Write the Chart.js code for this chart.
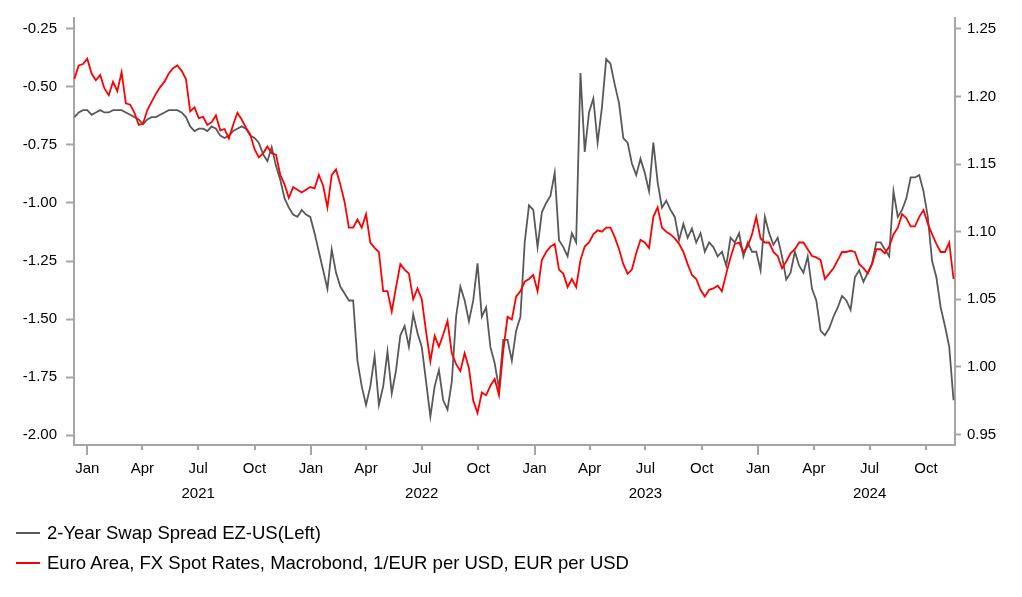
<!DOCTYPE html>
<html>
<head>
<meta charset="utf-8">
<script src="https://cdn.jsdelivr.net/npm/chart.js@4.4.1/dist/chart.umd.min.js"></script>
<style>
  html, body { margin: 0; padding: 0; background: #fff; }
  #wrap { position: relative; width: 1022px; height: 597px; }
  #legend { position: absolute; left: 16px; top: 518px; font: 18.5px "Liberation Sans", Arial, sans-serif; color: #000; }
  .item { height: 30px; line-height: 30px; white-space: nowrap; }
  .swatch { display: inline-block; width: 24px; height: 2px; vertical-align: middle; margin-right: 7px; position: relative; top: -1px; }
</style>
</head>
<body>
<div id="wrap">
  <canvas id="chart" width="1022" height="597"></canvas>
  <div id="legend"></div>
</div>
<script>
// weekly observations starting from this date
const startDate = '2020-12-11';
const stepDays = 7;

const seriesNames = [
    '2-Year Swap Spread EZ-US(Left)',
    'Euro Area, FX Spot Rates, Macrobond, 1/EUR per USD, EUR per USD'
];

// 2-Year Swap Spread EZ-US (left axis)
const swapSpread = [
    -0.63,-0.61,-0.60,-0.60,-0.62,-0.61,-0.60,-0.61,-0.61,-0.60,
    -0.60,-0.60,-0.61,-0.62,-0.63,-0.64,-0.66,-0.64,-0.63,-0.63,
    -0.62,-0.61,-0.60,-0.60,-0.60,-0.61,-0.63,-0.67,-0.69,-0.68,
    -0.68,-0.69,-0.67,-0.68,-0.71,-0.72,-0.71,-0.69,-0.68,-0.67,
    -0.68,-0.71,-0.72,-0.74,-0.79,-0.82,-0.76,-0.84,-0.90,-0.98,
    -1.02,-1.05,-1.06,-1.03,-1.05,-1.06,-1.13,-1.21,-1.29,-1.37,
    -1.20,-1.30,-1.36,-1.39,-1.42,-1.42,-1.68,-1.79,-1.87,-1.79,
    -1.66,-1.87,-1.79,-1.64,-1.82,-1.72,-1.57,-1.53,-1.62,-1.48,
    -1.56,-1.62,-1.77,-1.92,-1.79,-1.72,-1.85,-1.89,-1.77,-1.49,
    -1.36,-1.42,-1.51,-1.42,-1.26,-1.49,-1.45,-1.62,-1.69,-1.80,
    -1.59,-1.59,-1.68,-1.55,-1.49,-1.17,-1.01,-1.03,-1.19,-1.04,
    -1.00,-0.97,-0.87,-1.16,-1.19,-1.23,-1.13,-1.17,-0.44,-0.78,
    -0.61,-0.55,-0.74,-0.59,-0.38,-0.40,-0.49,-0.57,-0.72,-0.74,
    -0.83,-0.88,-0.81,-0.87,-0.95,-0.74,-0.91,-1.02,-0.99,-1.03,
    -1.06,-1.16,-1.09,-1.15,-1.11,-1.17,-1.13,-1.21,-1.17,-1.19,
    -1.23,-1.21,-1.27,-1.15,-1.17,-1.13,-1.23,-1.17,-1.21,-1.21,
    -1.29,-1.06,-1.13,-1.18,-1.15,-1.23,-1.33,-1.30,-1.21,-1.27,
    -1.30,-1.23,-1.37,-1.42,-1.55,-1.57,-1.54,-1.49,-1.45,-1.40,
    -1.42,-1.46,-1.32,-1.29,-1.34,-1.30,-1.26,-1.17,-1.17,-1.20,
    -1.23,-0.95,-1.06,-1.03,-0.98,-0.89,-0.89,-0.88,-0.95,-1.06,
    -1.25,-1.32,-1.45,-1.53,-1.62,-1.85
];

// EUR/USD spot (right axis)
const eurUsd = [
    1.213,1.223,1.224,1.228,1.217,1.212,1.216,1.206,1.201,1.211,
    1.204,1.218,1.195,1.194,1.188,1.179,1.180,1.190,1.196,1.202,
    1.207,1.211,1.217,1.221,1.223,1.219,1.213,1.189,1.192,1.184,
    1.185,1.179,1.181,1.186,1.175,1.176,1.169,1.179,1.188,1.183,
    1.177,1.172,1.161,1.155,1.158,1.163,1.158,1.157,1.142,1.135,
    1.125,1.133,1.131,1.129,1.131,1.133,1.132,1.142,1.134,1.118,
    1.142,1.146,1.135,1.122,1.103,1.103,1.109,1.103,1.113,1.092,
    1.088,1.085,1.056,1.056,1.041,1.059,1.076,1.072,1.069,1.050,
    1.058,1.050,1.026,1.004,1.023,1.015,1.024,1.034,1.010,1.002,
    0.997,1.010,0.999,0.975,0.966,0.981,0.979,0.986,0.991,0.979,
    1.012,1.037,1.035,1.052,1.056,1.063,1.065,1.068,1.056,1.079,
    1.085,1.089,1.091,1.072,1.069,1.059,1.065,1.059,1.079,1.089,
    1.092,1.098,1.101,1.100,1.103,1.103,1.096,1.087,1.076,1.069,
    1.072,1.084,1.094,1.092,1.088,1.111,1.118,1.103,1.100,1.098,
    1.095,1.091,1.085,1.076,1.068,1.065,1.057,1.052,1.057,1.058,
    1.060,1.056,1.069,1.081,1.091,1.092,1.085,1.089,1.098,1.111,
    1.095,1.092,1.092,1.085,1.082,1.073,1.078,1.084,1.087,1.092,
    1.092,1.087,1.082,1.081,1.079,1.065,1.069,1.073,1.079,1.085,
    1.085,1.086,1.085,1.076,1.073,1.069,1.076,1.087,1.087,1.084,
    1.089,1.098,1.103,1.113,1.110,1.104,1.104,1.111,1.116,1.106,
    1.098,1.091,1.085,1.085,1.092,1.065
];

const leftTicks = [-2.00, -1.75, -1.50, -1.25, -1.00, -0.75, -0.50, -0.25];
const rightTicks = [0.95, 1.00, 1.05, 1.10, 1.15, 1.20, 1.25];
const tickYears = [2021, 2022, 2023, 2024];
const tickMonths = ['Jan', 'Apr', 'Jul', 'Oct'];

const seriesColors = ['#595959', '#ff0000'];
const axisColor = '#a6a6a6';
const fontFamily = '"Liberation Sans", Arial, sans-serif';

// x values are days counted from 1 Jan 2021
const DAY = 86400000;
const origin = Date.UTC(2021, 0, 1);
const dayOf = (y, m, d) => (Date.UTC(y, m, d) - origin) / DAY;
const firstDay = (Date.parse(startDate) - origin) / DAY;
const days = swapSpread.map((_, i) => firstDay + i * stepDays);

// quarter ticks
const quarterTicks = [];
tickYears.forEach(y => {
    tickMonths.forEach((name, q) => {
        quarterTicks.push({ value: dayOf(y, q * 3, 1), label: name, year: y, major: q === 0 });
    });
});

const xTickMarks = {
    id: 'xTickMarks',
    afterDraw(chart) {
        const sc = chart.scales.x;
        const ctx = chart.ctx;
        ctx.save();
        ctx.strokeStyle = axisColor;
        ctx.lineWidth = 2;
        quarterTicks.forEach(t => {
            const px = Math.round(sc.getPixelForValue(t.value));
            const len = t.major ? 10 : 5;
            ctx.beginPath();
            ctx.moveTo(px, sc.top);
            ctx.lineTo(px, sc.top + len);
            ctx.stroke();
        });
        ctx.restore();
    }
};

new Chart(document.getElementById('chart'), {
    type: 'line',
    data: {
        datasets: [{
            label: seriesNames[0],
            data: days.map((d, i) => ({ x: d, y: swapSpread[i] })),
            borderColor: seriesColors[0],
            borderWidth: 1.8,
            pointRadius: 0,
            tension: 0,
            yAxisID: 'y',
            order: 2
        }, {
            label: seriesNames[1],
            data: days.map((d, i) => ({ x: d, y: eurUsd[i] })),
            borderColor: seriesColors[1],
            borderWidth: 1.8,
            pointRadius: 0,
            tension: 0,
            yAxisID: 'y1',
            order: 1
        }]
    },
    options: {
        responsive: false,
        animation: false,
        devicePixelRatio: 1,
        layout: { padding: { top: 14, left: 0, right: 0, bottom: 0 } },
        plugins: { legend: { display: false }, tooltip: { enabled: false } },
        scales: {
            x: {
                type: 'linear',
                min: -21.7,
                max: 1416.4,
                afterBuildTicks: sc => { sc.ticks = quarterTicks.map(t => ({ value: t.value })); },
                afterFit: sc => { sc.height = 152; },
                grid: { drawOnChartArea: false, drawTicks: false },
                border: { display: true, color: axisColor, width: 2 },
                ticks: {
                    autoSkip: false,
                    maxRotation: 0,
                    padding: 11,
                    color: '#000',
                    font: { family: fontFamily, size: 15, lineHeight: 1.67 },
                    callback: (v, i) => {
                        const t = quarterTicks[i];
                        return t.label === 'Jul' ? [t.label, String(t.year)] : t.label;
                    }
                }
            },
            y: {
                position: 'left',
                min: -2.0426,
                max: -0.2031,
                afterBuildTicks: sc => { sc.ticks = leftTicks.map(v => ({ value: v })); },
                afterFit: sc => { sc.width = 74; },
                grid: { drawOnChartArea: false, drawTicks: true, tickLength: 8, tickColor: axisColor, tickWidth: 2 },
                border: { display: true, color: axisColor, width: 2 },
                ticks: {
                    padding: 9,
                    color: '#000',
                    font: { family: fontFamily, size: 15 },
                    callback: v => v.toFixed(2)
                }
            },
            y1: {
                position: 'right',
                min: 0.9422,
                max: 1.2581,
                afterBuildTicks: sc => { sc.ticks = rightTicks.map(v => ({ value: v })); },
                afterFit: sc => { sc.width = 67; },
                grid: { drawOnChartArea: false, drawTicks: true, tickLength: 6, tickColor: axisColor, tickWidth: 2 },
                border: { display: true, color: axisColor, width: 2 },
                ticks: {
                    padding: 6,
                    color: '#000',
                    font: { family: fontFamily, size: 15 },
                    callback: v => v.toFixed(2)
                }
            }
        }
    },
    plugins: [xTickMarks]
});

// legend as plain HTML, one series per row
const legend = document.getElementById('legend');
seriesNames.forEach((name, i) => {
    const row = document.createElement('div');
    row.className = 'item';
    const sw = document.createElement('span');
    sw.className = 'swatch';
    sw.style.background = seriesColors[i];
    row.appendChild(sw);
    row.appendChild(document.createTextNode(name));
    legend.appendChild(row);
});
</script>
</body>
</html>
